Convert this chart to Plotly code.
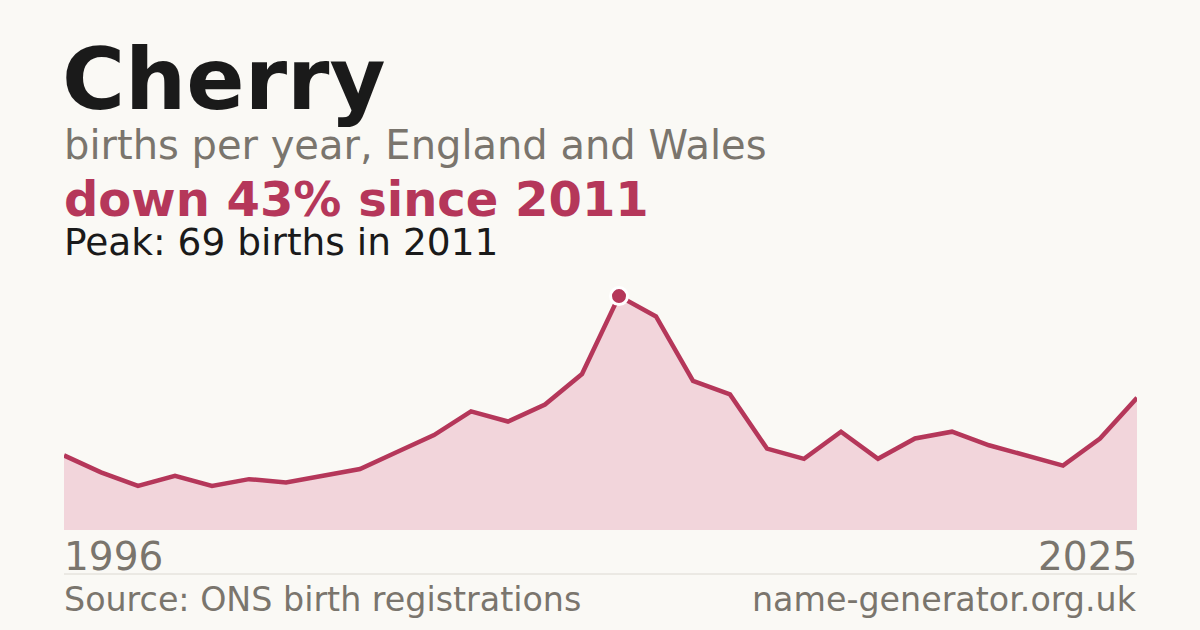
import plotly.graph_objects as go

years = list(range(1996, 2026))
births = [22, 17, 13, 16, 13, 15, 14, 16, 18, 23, 28, 35, 32, 37, 46,
          69, 63, 44, 40, 24, 21, 29, 21, 27, 29, 25, 22, 19, 27, 39]
name = "Cherry"
subtitle = "births per year, England and Wales"
peak_year = 2011
peak_value = 69
change_text = "down 43% since 2011"
source_text = "Source: ONS birth registrations"
site_text = "name-generator.org.uk"

BG = "#faf9f5"
RED = "#b5375a"
FILL = "#f2d5db"
GREY = "#7a756d"
DARK = "#1a1a1a"
FONT = "DejaVu Sans"

W, H = 1200, 630
L, R, T, B = 64, 63, 280, 100
PH = H - T - B


def py(p):
    return (H - B - p) / PH


def px(p):
    return (p - L) / (W - L - R)


fig = go.Figure()
fig.add_trace(go.Scatter(
    x=years, y=births, mode="lines",
    line=dict(color=RED, width=4.5),
    fill="tozeroy", fillcolor=FILL,
    hoverinfo="skip", showlegend=False,
))
fig.add_trace(go.Scatter(
    x=[peak_year], y=[peak_value], mode="markers",
    marker=dict(size=17, color=RED, line=dict(color="white", width=3)),
    hoverinfo="skip", showlegend=False, cliponaxis=False,
))

annots = [
    dict(text=f"<b>{name}</b>", size=86, color=DARK, y=79, x=L - 4, xanchor="left"),
    dict(text=subtitle, size=40, color=GREY, y=145, x=L - 2, xanchor="left"),
    dict(text=f"<b>{change_text}</b>", size=48, color=RED, y=199, x=L - 2, xanchor="left"),
    dict(text=f"Peak: {peak_value} births in {peak_year}", size=37.5, color=DARK, y=242, x=L - 2, xanchor="left"),
    dict(text=str(years[0]), size=39, color=GREY, y=556, x=L - 2, xanchor="left"),
    dict(text=str(years[-1]), size=39, color=GREY, y=556, x=W - R + 2, xanchor="right"),
    dict(text=source_text, size=33.3, color=GREY, y=599, x=L - 2, xanchor="left"),
    dict(text=site_text, size=33.3, color=GREY, y=599, x=W - R + 2, xanchor="right"),
]
for a in annots:
    fig.add_annotation(
        text=a["text"], xref="paper", yref="paper",
        x=px(a["x"]), y=py(a["y"]), xanchor=a["xanchor"], yanchor="middle",
        showarrow=False, font=dict(family=FONT, size=a["size"], color=a["color"]),
    )

fig.add_shape(type="line", xref="paper", yref="paper",
              x0=0, x1=1, y0=py(574), y1=py(574),
              line=dict(color="#dcd9d2", width=1))

fig.update_layout(
    width=W, height=H,
    margin=dict(l=L, r=R, t=T, b=B),
    paper_bgcolor=BG, plot_bgcolor=BG,
    xaxis=dict(range=[years[0], years[-1]], visible=False, fixedrange=True),
    yaxis=dict(range=[0, PH / 3.39], visible=False, fixedrange=True),
    font=dict(family=FONT),
)

fig.write_html(
    "out.html",
    config={"displayModeBar": False},
    post_script="document.body.style.margin='0px';document.body.style.background='%s';" % BG,
)
